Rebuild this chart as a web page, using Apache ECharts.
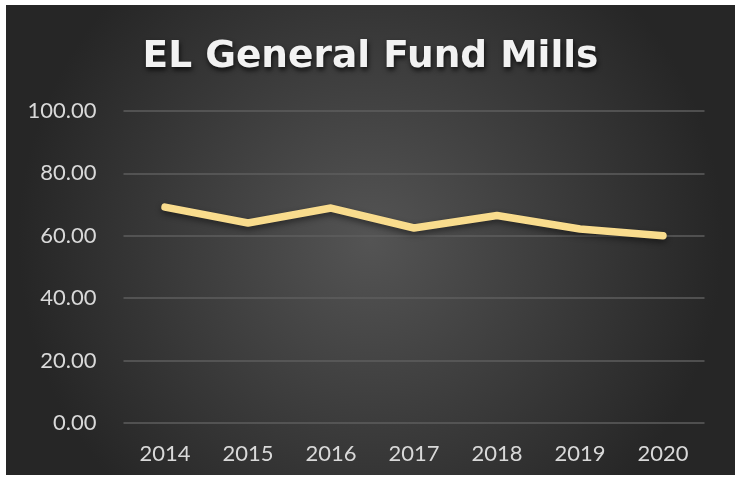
<!DOCTYPE html>
<html>
<head>
<meta charset="utf-8">
<style>
  html, body { margin: 0; padding: 0; background: #ffffff; width: 735px; height: 483px; overflow: hidden; }
  #chart { position: absolute; left: 6px; top: 5px; width: 729px; height: 470px; }
</style>
<script src="https://cdn.jsdelivr.net/npm/echarts@6/dist/echarts.min.js"></script>
</head>
<body>
<div id="chart"></div>
<script>
// Fiscal years and general fund mill levy values
const years = ['2014', '2015', '2016', '2017', '2018', '2019', '2020'];
const mills = [69.2, 64.1, 68.9, 62.5, 66.5, 62.2, 60.0];

const chart = echarts.init(document.getElementById('chart'), null, { renderer: 'canvas' });

chart.setOption({
  backgroundColor: {
    type: 'radial', x: 0.5, y: 0.5, r: 0.75,
    colorStops: [
      { offset: 0, color: '#545454' },
      { offset: 1, color: '#262626' }
    ]
  },
  title: {
    text: 'EL General Fund Mills',
    left: 'center',
    top: 28,
    textStyle: {
      fontFamily: 'DejaVu Sans',
      fontWeight: 'bold',
      fontSize: 37.5,
      color: '#f2f2f2',
      textShadowColor: 'rgba(0,0,0,0.75)',
      textShadowBlur: 5,
      textShadowOffsetX: 1,
      textShadowOffsetY: 3
    }
  },
  grid: { left: 117.5, right: 30.5, top: 106, bottom: 52 },
  xAxis: {
    type: 'category',
    data: years,
    boundaryGap: true,
    axisLine: { show: false },
    axisTick: { show: false },
    axisLabel: { color: '#d9d9d9', fontFamily: 'Lato', fontSize: 22, margin: 20 }
  },
  yAxis: {
    type: 'value',
    min: 0, max: 100, interval: 20,
    axisLine: { show: false },
    axisTick: { show: false },
    splitLine: { lineStyle: { color: '#5e5e5e', width: 1.5 } },
    axisLabel: {
      color: '#d9d9d9', fontFamily: 'Lato', fontSize: 22, margin: 27,
      formatter: v => v.toFixed(2)
    }
  },
  series: [{
    type: 'line',
    data: mills,
    symbol: 'none',
    lineStyle: {
      color: '#f9dc8d', width: 7.5, cap: 'round', join: 'round',
      shadowColor: 'rgba(0,0,0,0.45)', shadowBlur: 6, shadowOffsetY: 3
    },
    animation: false
  }],
  animation: false
});
</script>
</body>
</html>
